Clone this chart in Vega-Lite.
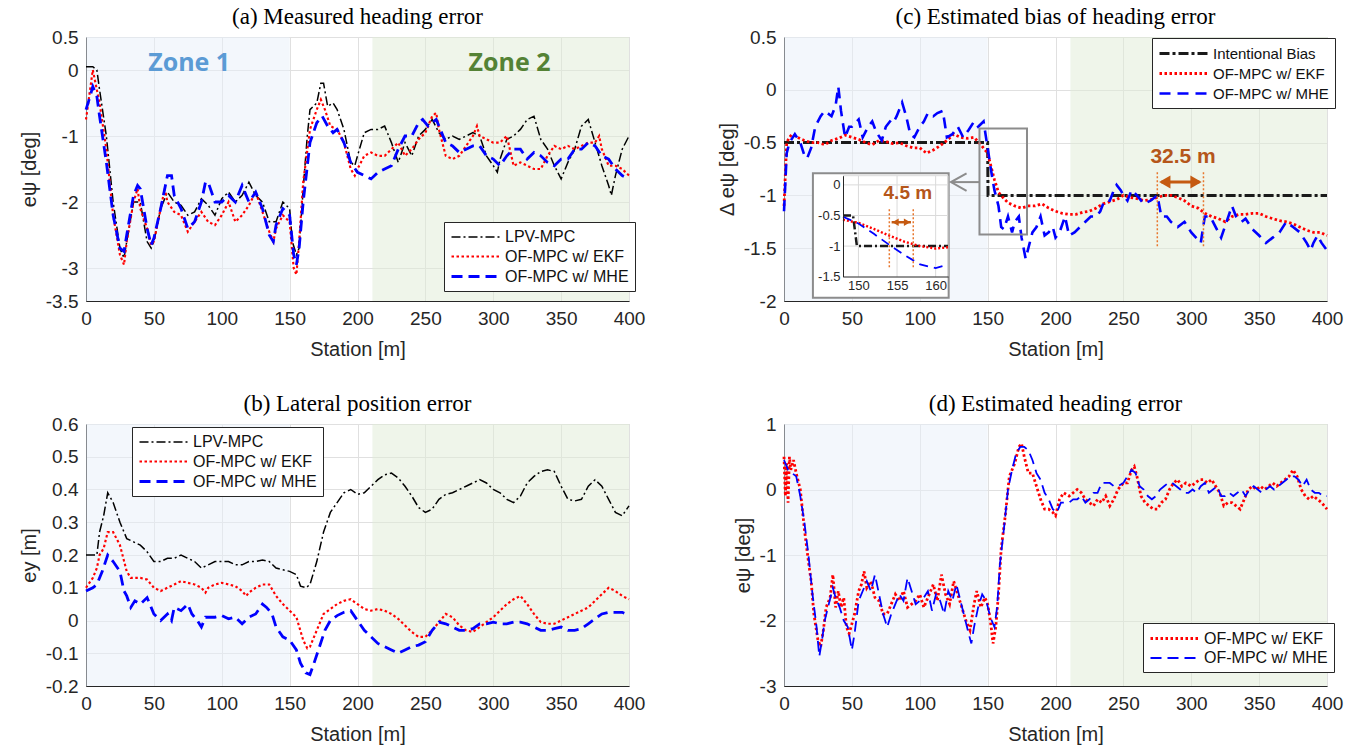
{
"$schema":"https://vega.github.io/schema/vega-lite/v6.json",
"background":"white",
"padding":{"left":18,"top":5,"right":5,"bottom":5},
"columns":2,
"bounds":"flush",
"spacing":{"row":123,"column":155},
"resolve":{"scale":{"color":"independent","strokeDash":"independent","strokeWidth":"independent","shape":"independent"},"legend":{"color":"independent","strokeDash":"independent"}},
"datasets":{
"zones":[{"z":1,"x0":0,"x1":150},{"z":2,"x0":211,"x1":400}],
"a":[
{"s":"L","x":0,"y":0.05},{"s":"L","x":5,"y":0.05},{"s":"L","x":8,"y":0.0},{"s":"L","x":10,"y":-0.3},{"s":"L","x":15,"y":-1.0},{"s":"L","x":20,"y":-2.0},{"s":"L","x":25,"y":-2.7},{"s":"L","x":28,"y":-2.85},{"s":"L","x":30,"y":-2.6},{"s":"L","x":35,"y":-2.0},{"s":"L","x":40,"y":-2.0},{"s":"L","x":45,"y":-2.6},{"s":"L","x":48,"y":-2.7},{"s":"L","x":50,"y":-2.6},{"s":"L","x":55,"y":-2.1},{"s":"L","x":60,"y":-1.85},{"s":"L","x":65,"y":-2.0},{"s":"L","x":70,"y":-2.05},{"s":"L","x":75,"y":-2.2},{"s":"L","x":80,"y":-2.15},{"s":"L","x":85,"y":-1.95},{"s":"L","x":90,"y":-2.05},{"s":"L","x":95,"y":-2.2},{"s":"L","x":100,"y":-1.95},{"s":"L","x":105,"y":-1.85},{"s":"L","x":110,"y":-2.0},{"s":"L","x":115,"y":-1.9},{"s":"L","x":120,"y":-1.7},{"s":"L","x":125,"y":-1.9},{"s":"L","x":130,"y":-2.0},{"s":"L","x":135,"y":-2.3},{"s":"L","x":140,"y":-2.3},{"s":"L","x":145,"y":-2.0},{"s":"L","x":150,"y":-2.1},{"s":"L","x":152,"y":-2.6},{"s":"L","x":155,"y":-2.8},{"s":"L","x":157,"y":-2.7},{"s":"L","x":160,"y":-1.8},{"s":"L","x":163,"y":-1.0},{"s":"L","x":165,"y":-0.6},{"s":"L","x":170,"y":-0.5},{"s":"L","x":173,"y":-0.2},{"s":"L","x":175,"y":-0.2},{"s":"L","x":178,"y":-0.55},{"s":"L","x":182,"y":-0.5},{"s":"L","x":185,"y":-0.6},{"s":"L","x":190,"y":-0.9},{"s":"L","x":195,"y":-1.4},{"s":"L","x":198,"y":-1.45},{"s":"L","x":200,"y":-1.3},{"s":"L","x":205,"y":-0.95},{"s":"L","x":210,"y":-0.9},{"s":"L","x":215,"y":-0.9},{"s":"L","x":220,"y":-0.85},{"s":"L","x":225,"y":-1.1},{"s":"L","x":230,"y":-1.4},{"s":"L","x":235,"y":-1.1},{"s":"L","x":240,"y":-1.3},{"s":"L","x":245,"y":-1.0},{"s":"L","x":250,"y":-0.9},{"s":"L","x":255,"y":-0.75},{"s":"L","x":260,"y":-0.95},{"s":"L","x":265,"y":-1.05},{"s":"L","x":270,"y":-1.0},{"s":"L","x":275,"y":-1.05},{"s":"L","x":280,"y":-1.0},{"s":"L","x":285,"y":-0.95},{"s":"L","x":290,"y":-1.0},{"s":"L","x":295,"y":-1.3},{"s":"L","x":300,"y":-1.45},{"s":"L","x":303,"y":-1.55},{"s":"L","x":305,"y":-1.35},{"s":"L","x":310,"y":-1.05},{"s":"L","x":315,"y":-1.0},{"s":"L","x":320,"y":-0.9},{"s":"L","x":325,"y":-0.75},{"s":"L","x":330,"y":-0.7},{"s":"L","x":335,"y":-1.05},{"s":"L","x":340,"y":-1.2},{"s":"L","x":345,"y":-1.45},{"s":"L","x":350,"y":-1.65},{"s":"L","x":355,"y":-1.4},{"s":"L","x":360,"y":-1.2},{"s":"L","x":365,"y":-0.85},{"s":"L","x":370,"y":-0.75},{"s":"L","x":375,"y":-1.1},{"s":"L","x":380,"y":-1.45},{"s":"L","x":385,"y":-1.75},{"s":"L","x":387,"y":-1.9},{"s":"L","x":390,"y":-1.6},{"s":"L","x":395,"y":-1.2},{"s":"L","x":400,"y":-1.0},
{"s":"E","x":0,"y":-0.75},{"s":"E","x":3,"y":-0.3},{"s":"E","x":5,"y":0.0},{"s":"E","x":7,"y":-0.2},{"s":"E","x":10,"y":-0.5},{"s":"E","x":15,"y":-1.2},{"s":"E","x":20,"y":-2.2},{"s":"E","x":25,"y":-2.8},{"s":"E","x":28,"y":-2.95},{"s":"E","x":30,"y":-2.6},{"s":"E","x":35,"y":-2.0},{"s":"E","x":38,"y":-1.8},{"s":"E","x":40,"y":-2.1},{"s":"E","x":45,"y":-2.4},{"s":"E","x":48,"y":-2.65},{"s":"E","x":50,"y":-2.6},{"s":"E","x":55,"y":-2.1},{"s":"E","x":58,"y":-1.8},{"s":"E","x":60,"y":-2.0},{"s":"E","x":65,"y":-2.15},{"s":"E","x":70,"y":-2.2},{"s":"E","x":75,"y":-2.45},{"s":"E","x":80,"y":-2.3},{"s":"E","x":85,"y":-2.15},{"s":"E","x":90,"y":-2.3},{"s":"E","x":95,"y":-2.35},{"s":"E","x":100,"y":-2.2},{"s":"E","x":105,"y":-2.0},{"s":"E","x":110,"y":-2.3},{"s":"E","x":115,"y":-2.2},{"s":"E","x":120,"y":-2.05},{"s":"E","x":125,"y":-1.85},{"s":"E","x":130,"y":-2.15},{"s":"E","x":135,"y":-2.45},{"s":"E","x":138,"y":-2.6},{"s":"E","x":140,"y":-2.4},{"s":"E","x":145,"y":-2.2},{"s":"E","x":150,"y":-2.3},{"s":"E","x":153,"y":-3.0},{"s":"E","x":155,"y":-3.1},{"s":"E","x":157,"y":-2.6},{"s":"E","x":160,"y":-1.7},{"s":"E","x":165,"y":-0.9},{"s":"E","x":170,"y":-0.6},{"s":"E","x":173,"y":-0.45},{"s":"E","x":176,"y":-0.6},{"s":"E","x":180,"y":-0.85},{"s":"E","x":185,"y":-0.9},{"s":"E","x":190,"y":-1.1},{"s":"E","x":195,"y":-1.5},{"s":"E","x":198,"y":-1.6},{"s":"E","x":200,"y":-1.5},{"s":"E","x":205,"y":-1.3},{"s":"E","x":210,"y":-1.25},{"s":"E","x":215,"y":-1.3},{"s":"E","x":220,"y":-1.3},{"s":"E","x":225,"y":-1.2},{"s":"E","x":230,"y":-1.1},{"s":"E","x":235,"y":-1.3},{"s":"E","x":240,"y":-1.2},{"s":"E","x":245,"y":-1.05},{"s":"E","x":250,"y":-0.95},{"s":"E","x":255,"y":-0.7},{"s":"E","x":258,"y":-0.65},{"s":"E","x":260,"y":-0.9},{"s":"E","x":265,"y":-1.3},{"s":"E","x":270,"y":-1.35},{"s":"E","x":275,"y":-1.3},{"s":"E","x":280,"y":-1.15},{"s":"E","x":285,"y":-1.0},{"s":"E","x":288,"y":-0.85},{"s":"E","x":290,"y":-1.0},{"s":"E","x":295,"y":-1.05},{"s":"E","x":300,"y":-1.1},{"s":"E","x":305,"y":-1.1},{"s":"E","x":310,"y":-1.0},{"s":"E","x":315,"y":-1.45},{"s":"E","x":320,"y":-1.4},{"s":"E","x":325,"y":-1.45},{"s":"E","x":330,"y":-1.5},{"s":"E","x":335,"y":-1.5},{"s":"E","x":340,"y":-1.3},{"s":"E","x":345,"y":-1.15},{"s":"E","x":350,"y":-1.2},{"s":"E","x":355,"y":-1.15},{"s":"E","x":360,"y":-1.2},{"s":"E","x":365,"y":-1.15},{"s":"E","x":370,"y":-1.1},{"s":"E","x":375,"y":-1.1},{"s":"E","x":378,"y":-1.0},{"s":"E","x":380,"y":-1.2},{"s":"E","x":385,"y":-1.45},{"s":"E","x":390,"y":-1.45},{"s":"E","x":395,"y":-1.5},{"s":"E","x":400,"y":-1.6},
{"s":"M","x":0,"y":-0.6},{"s":"M","x":3,"y":-0.4},{"s":"M","x":5,"y":-0.25},{"s":"M","x":8,"y":-0.4},{"s":"M","x":10,"y":-0.7},{"s":"M","x":15,"y":-1.4},{"s":"M","x":20,"y":-2.2},{"s":"M","x":25,"y":-2.7},{"s":"M","x":28,"y":-2.75},{"s":"M","x":30,"y":-2.5},{"s":"M","x":35,"y":-1.9},{"s":"M","x":38,"y":-1.75},{"s":"M","x":40,"y":-1.8},{"s":"M","x":45,"y":-2.4},{"s":"M","x":48,"y":-2.65},{"s":"M","x":50,"y":-2.55},{"s":"M","x":55,"y":-2.1},{"s":"M","x":60,"y":-1.6},{"s":"M","x":63,"y":-1.6},{"s":"M","x":65,"y":-1.9},{"s":"M","x":70,"y":-2.1},{"s":"M","x":75,"y":-2.4},{"s":"M","x":80,"y":-2.3},{"s":"M","x":85,"y":-2.0},{"s":"M","x":88,"y":-1.7},{"s":"M","x":90,"y":-1.7},{"s":"M","x":95,"y":-2.0},{"s":"M","x":100,"y":-2.0},{"s":"M","x":105,"y":-1.9},{"s":"M","x":110,"y":-2.0},{"s":"M","x":115,"y":-1.75},{"s":"M","x":120,"y":-2.0},{"s":"M","x":125,"y":-1.85},{"s":"M","x":130,"y":-2.1},{"s":"M","x":135,"y":-2.5},{"s":"M","x":138,"y":-2.6},{"s":"M","x":140,"y":-2.35},{"s":"M","x":145,"y":-2.1},{"s":"M","x":150,"y":-2.2},{"s":"M","x":153,"y":-2.8},{"s":"M","x":155,"y":-2.95},{"s":"M","x":157,"y":-2.7},{"s":"M","x":160,"y":-2.0},{"s":"M","x":165,"y":-1.1},{"s":"M","x":170,"y":-0.8},{"s":"M","x":174,"y":-0.7},{"s":"M","x":178,"y":-0.85},{"s":"M","x":182,"y":-0.95},{"s":"M","x":185,"y":-0.9},{"s":"M","x":190,"y":-1.1},{"s":"M","x":195,"y":-1.4},{"s":"M","x":200,"y":-1.55},{"s":"M","x":205,"y":-1.6},{"s":"M","x":210,"y":-1.65},{"s":"M","x":215,"y":-1.55},{"s":"M","x":220,"y":-1.5},{"s":"M","x":225,"y":-1.45},{"s":"M","x":230,"y":-1.2},{"s":"M","x":235,"y":-1.0},{"s":"M","x":240,"y":-1.0},{"s":"M","x":245,"y":-0.8},{"s":"M","x":248,"y":-0.75},{"s":"M","x":252,"y":-0.85},{"s":"M","x":255,"y":-0.8},{"s":"M","x":258,"y":-0.75},{"s":"M","x":260,"y":-0.85},{"s":"M","x":265,"y":-1.1},{"s":"M","x":270,"y":-1.15},{"s":"M","x":275,"y":-1.25},{"s":"M","x":280,"y":-1.2},{"s":"M","x":285,"y":-1.15},{"s":"M","x":290,"y":-1.15},{"s":"M","x":295,"y":-1.3},{"s":"M","x":300,"y":-1.35},{"s":"M","x":305,"y":-1.45},{"s":"M","x":310,"y":-1.3},{"s":"M","x":315,"y":-1.2},{"s":"M","x":320,"y":-1.2},{"s":"M","x":325,"y":-1.35},{"s":"M","x":330,"y":-1.25},{"s":"M","x":335,"y":-1.3},{"s":"M","x":340,"y":-1.4},{"s":"M","x":345,"y":-1.45},{"s":"M","x":350,"y":-1.35},{"s":"M","x":355,"y":-1.35},{"s":"M","x":360,"y":-1.2},{"s":"M","x":365,"y":-1.2},{"s":"M","x":370,"y":-1.1},{"s":"M","x":375,"y":-1.15},{"s":"M","x":380,"y":-1.3},{"s":"M","x":385,"y":-1.35},{"s":"M","x":390,"y":-1.5},{"s":"M","x":395,"y":-1.6},{"s":"M","x":400,"y":-1.65}
],
"b":[
{"s":"L","x":0,"y":0.2},{"s":"L","x":5,"y":0.2},{"s":"L","x":8,"y":0.2},{"s":"L","x":10,"y":0.27},{"s":"L","x":13,"y":0.32},{"s":"L","x":16,"y":0.39},{"s":"L","x":20,"y":0.36},{"s":"L","x":25,"y":0.3},{"s":"L","x":30,"y":0.25},{"s":"L","x":35,"y":0.24},{"s":"L","x":40,"y":0.23},{"s":"L","x":45,"y":0.21},{"s":"L","x":50,"y":0.18},{"s":"L","x":55,"y":0.18},{"s":"L","x":60,"y":0.19},{"s":"L","x":65,"y":0.19},{"s":"L","x":70,"y":0.2},{"s":"L","x":75,"y":0.19},{"s":"L","x":80,"y":0.18},{"s":"L","x":85,"y":0.16},{"s":"L","x":90,"y":0.17},{"s":"L","x":95,"y":0.18},{"s":"L","x":100,"y":0.18},{"s":"L","x":105,"y":0.18},{"s":"L","x":110,"y":0.17},{"s":"L","x":115,"y":0.17},{"s":"L","x":120,"y":0.18},{"s":"L","x":125,"y":0.18},{"s":"L","x":130,"y":0.185},{"s":"L","x":135,"y":0.18},{"s":"L","x":140,"y":0.16},{"s":"L","x":145,"y":0.155},{"s":"L","x":150,"y":0.15},{"s":"L","x":155,"y":0.14},{"s":"L","x":158,"y":0.105},{"s":"L","x":162,"y":0.1},{"s":"L","x":165,"y":0.11},{"s":"L","x":170,"y":0.18},{"s":"L","x":175,"y":0.27},{"s":"L","x":180,"y":0.33},{"s":"L","x":185,"y":0.36},{"s":"L","x":190,"y":0.39},{"s":"L","x":195,"y":0.4},{"s":"L","x":200,"y":0.385},{"s":"L","x":205,"y":0.39},{"s":"L","x":210,"y":0.41},{"s":"L","x":215,"y":0.43},{"s":"L","x":220,"y":0.445},{"s":"L","x":225,"y":0.45},{"s":"L","x":230,"y":0.435},{"s":"L","x":235,"y":0.41},{"s":"L","x":240,"y":0.38},{"s":"L","x":245,"y":0.345},{"s":"L","x":250,"y":0.33},{"s":"L","x":255,"y":0.34},{"s":"L","x":260,"y":0.37},{"s":"L","x":265,"y":0.385},{"s":"L","x":270,"y":0.39},{"s":"L","x":275,"y":0.4},{"s":"L","x":280,"y":0.41},{"s":"L","x":285,"y":0.42},{"s":"L","x":290,"y":0.43},{"s":"L","x":295,"y":0.42},{"s":"L","x":300,"y":0.4},{"s":"L","x":305,"y":0.39},{"s":"L","x":310,"y":0.37},{"s":"L","x":315,"y":0.36},{"s":"L","x":320,"y":0.38},{"s":"L","x":325,"y":0.42},{"s":"L","x":330,"y":0.44},{"s":"L","x":335,"y":0.455},{"s":"L","x":340,"y":0.46},{"s":"L","x":345,"y":0.455},{"s":"L","x":350,"y":0.41},{"s":"L","x":355,"y":0.37},{"s":"L","x":360,"y":0.365},{"s":"L","x":365,"y":0.37},{"s":"L","x":370,"y":0.41},{"s":"L","x":375,"y":0.43},{"s":"L","x":380,"y":0.41},{"s":"L","x":385,"y":0.37},{"s":"L","x":390,"y":0.33},{"s":"L","x":395,"y":0.32},{"s":"L","x":400,"y":0.35},
{"s":"E","x":0,"y":0.1},{"s":"E","x":5,"y":0.13},{"s":"E","x":8,"y":0.16},{"s":"E","x":10,"y":0.2},{"s":"E","x":13,"y":0.22},{"s":"E","x":16,"y":0.27},{"s":"E","x":20,"y":0.27},{"s":"E","x":25,"y":0.23},{"s":"E","x":30,"y":0.15},{"s":"E","x":33,"y":0.13},{"s":"E","x":40,"y":0.13},{"s":"E","x":45,"y":0.125},{"s":"E","x":50,"y":0.1},{"s":"E","x":55,"y":0.09},{"s":"E","x":60,"y":0.1},{"s":"E","x":65,"y":0.11},{"s":"E","x":70,"y":0.12},{"s":"E","x":75,"y":0.115},{"s":"E","x":80,"y":0.11},{"s":"E","x":85,"y":0.1},{"s":"E","x":88,"y":0.085},{"s":"E","x":90,"y":0.1},{"s":"E","x":95,"y":0.11},{"s":"E","x":100,"y":0.115},{"s":"E","x":105,"y":0.11},{"s":"E","x":110,"y":0.105},{"s":"E","x":115,"y":0.09},{"s":"E","x":118,"y":0.075},{"s":"E","x":120,"y":0.085},{"s":"E","x":125,"y":0.1},{"s":"E","x":130,"y":0.11},{"s":"E","x":135,"y":0.11},{"s":"E","x":140,"y":0.075},{"s":"E","x":145,"y":0.05},{"s":"E","x":150,"y":0.03},{"s":"E","x":155,"y":0.01},{"s":"E","x":160,"y":-0.06},{"s":"E","x":163,"y":-0.085},{"s":"E","x":165,"y":-0.08},{"s":"E","x":170,"y":-0.03},{"s":"E","x":175,"y":0.02},{"s":"E","x":180,"y":0.035},{"s":"E","x":185,"y":0.05},{"s":"E","x":190,"y":0.06},{"s":"E","x":195,"y":0.065},{"s":"E","x":200,"y":0.05},{"s":"E","x":205,"y":0.035},{"s":"E","x":210,"y":0.03},{"s":"E","x":215,"y":0.035},{"s":"E","x":220,"y":0.03},{"s":"E","x":225,"y":0.02},{"s":"E","x":230,"y":0.005},{"s":"E","x":235,"y":-0.015},{"s":"E","x":240,"y":-0.035},{"s":"E","x":245,"y":-0.05},{"s":"E","x":250,"y":-0.05},{"s":"E","x":255,"y":-0.03},{"s":"E","x":260,"y":-0.005},{"s":"E","x":265,"y":0.02},{"s":"E","x":270,"y":0.01},{"s":"E","x":275,"y":-0.015},{"s":"E","x":280,"y":-0.03},{"s":"E","x":285,"y":-0.035},{"s":"E","x":290,"y":-0.02},{"s":"E","x":295,"y":-0.005},{"s":"E","x":300,"y":0.01},{"s":"E","x":305,"y":0.03},{"s":"E","x":310,"y":0.05},{"s":"E","x":315,"y":0.065},{"s":"E","x":320,"y":0.075},{"s":"E","x":325,"y":0.05},{"s":"E","x":330,"y":0.02},{"s":"E","x":335,"y":-0.005},{"s":"E","x":340,"y":-0.01},{"s":"E","x":345,"y":-0.01},{"s":"E","x":350,"y":0.0},{"s":"E","x":355,"y":0.01},{"s":"E","x":360,"y":0.02},{"s":"E","x":365,"y":0.03},{"s":"E","x":370,"y":0.04},{"s":"E","x":375,"y":0.06},{"s":"E","x":380,"y":0.08},{"s":"E","x":385,"y":0.1},{"s":"E","x":390,"y":0.09},{"s":"E","x":395,"y":0.075},{"s":"E","x":400,"y":0.065},
{"s":"M","x":0,"y":0.09},{"s":"M","x":5,"y":0.1},{"s":"M","x":8,"y":0.11},{"s":"M","x":12,"y":0.15},{"s":"M","x":16,"y":0.2},{"s":"M","x":20,"y":0.18},{"s":"M","x":25,"y":0.15},{"s":"M","x":28,"y":0.09},{"s":"M","x":30,"y":0.075},{"s":"M","x":33,"y":0.04},{"s":"M","x":36,"y":0.06},{"s":"M","x":40,"y":0.05},{"s":"M","x":45,"y":0.07},{"s":"M","x":48,"y":0.04},{"s":"M","x":50,"y":0.02},{"s":"M","x":55,"y":0.0},{"s":"M","x":60,"y":0.02},{"s":"M","x":63,"y":0.0},{"s":"M","x":65,"y":0.04},{"s":"M","x":70,"y":0.03},{"s":"M","x":75,"y":0.05},{"s":"M","x":78,"y":0.02},{"s":"M","x":82,"y":0.0},{"s":"M","x":85,"y":-0.02},{"s":"M","x":88,"y":0.01},{"s":"M","x":90,"y":0.01},{"s":"M","x":95,"y":0.01},{"s":"M","x":100,"y":0.015},{"s":"M","x":105,"y":0.005},{"s":"M","x":110,"y":0.01},{"s":"M","x":115,"y":-0.01},{"s":"M","x":120,"y":0.01},{"s":"M","x":125,"y":0.02},{"s":"M","x":130,"y":0.05},{"s":"M","x":133,"y":0.04},{"s":"M","x":137,"y":0.02},{"s":"M","x":140,"y":-0.02},{"s":"M","x":145,"y":-0.05},{"s":"M","x":150,"y":-0.06},{"s":"M","x":155,"y":-0.09},{"s":"M","x":158,"y":-0.13},{"s":"M","x":162,"y":-0.16},{"s":"M","x":165,"y":-0.165},{"s":"M","x":168,"y":-0.13},{"s":"M","x":172,"y":-0.08},{"s":"M","x":176,"y":-0.03},{"s":"M","x":180,"y":0.0},{"s":"M","x":185,"y":0.015},{"s":"M","x":190,"y":0.025},{"s":"M","x":195,"y":0.03},{"s":"M","x":200,"y":0.0},{"s":"M","x":205,"y":-0.03},{"s":"M","x":210,"y":-0.05},{"s":"M","x":215,"y":-0.07},{"s":"M","x":220,"y":-0.08},{"s":"M","x":225,"y":-0.09},{"s":"M","x":230,"y":-0.1},{"s":"M","x":235,"y":-0.09},{"s":"M","x":240,"y":-0.08},{"s":"M","x":245,"y":-0.075},{"s":"M","x":250,"y":-0.065},{"s":"M","x":255,"y":-0.03},{"s":"M","x":260,"y":-0.005},{"s":"M","x":265,"y":-0.01},{"s":"M","x":270,"y":-0.02},{"s":"M","x":275,"y":-0.03},{"s":"M","x":280,"y":-0.03},{"s":"M","x":285,"y":-0.025},{"s":"M","x":290,"y":-0.01},{"s":"M","x":295,"y":-0.01},{"s":"M","x":300,"y":-0.005},{"s":"M","x":305,"y":-0.01},{"s":"M","x":310,"y":-0.01},{"s":"M","x":315,"y":-0.005},{"s":"M","x":320,"y":-0.005},{"s":"M","x":325,"y":-0.01},{"s":"M","x":330,"y":-0.02},{"s":"M","x":335,"y":-0.03},{"s":"M","x":340,"y":-0.03},{"s":"M","x":345,"y":-0.025},{"s":"M","x":350,"y":-0.02},{"s":"M","x":355,"y":-0.03},{"s":"M","x":360,"y":-0.03},{"s":"M","x":365,"y":-0.025},{"s":"M","x":370,"y":-0.01},{"s":"M","x":375,"y":0.005},{"s":"M","x":380,"y":0.02},{"s":"M","x":385,"y":0.025},{"s":"M","x":390,"y":0.025},{"s":"M","x":395,"y":0.025},{"s":"M","x":400,"y":0.015}
],
"c":[
{"s":"B","x":0,"y":-0.5},{"s":"B","x":150,"y":-0.5},{"s":"B","x":150.3,"y":-1.0},{"s":"B","x":400,"y":-1.0},
{"s":"E","x":0,"y":-1.1},{"s":"E","x":1,"y":-0.8},{"s":"E","x":2,"y":-0.5},{"s":"E","x":4,"y":-0.45},{"s":"E","x":6,"y":-0.42},{"s":"E","x":10,"y":-0.45},{"s":"E","x":15,"y":-0.48},{"s":"E","x":20,"y":-0.5},{"s":"E","x":25,"y":-0.5},{"s":"E","x":30,"y":-0.52},{"s":"E","x":35,"y":-0.48},{"s":"E","x":40,"y":-0.46},{"s":"E","x":45,"y":-0.43},{"s":"E","x":50,"y":-0.45},{"s":"E","x":55,"y":-0.47},{"s":"E","x":60,"y":-0.5},{"s":"E","x":65,"y":-0.52},{"s":"E","x":70,"y":-0.48},{"s":"E","x":75,"y":-0.49},{"s":"E","x":80,"y":-0.51},{"s":"E","x":85,"y":-0.5},{"s":"E","x":90,"y":-0.53},{"s":"E","x":95,"y":-0.55},{"s":"E","x":100,"y":-0.55},{"s":"E","x":105,"y":-0.6},{"s":"E","x":110,"y":-0.57},{"s":"E","x":115,"y":-0.53},{"s":"E","x":120,"y":-0.48},{"s":"E","x":125,"y":-0.42},{"s":"E","x":130,"y":-0.45},{"s":"E","x":135,"y":-0.46},{"s":"E","x":140,"y":-0.45},{"s":"E","x":145,"y":-0.52},{"s":"E","x":150,"y":-0.6},{"s":"E","x":153,"y":-0.75},{"s":"E","x":155,"y":-0.85},{"s":"E","x":158,"y":-0.97},{"s":"E","x":162,"y":-1.03},{"s":"E","x":165,"y":-1.07},{"s":"E","x":170,"y":-1.1},{"s":"E","x":175,"y":-1.12},{"s":"E","x":180,"y":-1.1},{"s":"E","x":185,"y":-1.1},{"s":"E","x":190,"y":-1.08},{"s":"E","x":195,"y":-1.12},{"s":"E","x":200,"y":-1.15},{"s":"E","x":205,"y":-1.17},{"s":"E","x":210,"y":-1.18},{"s":"E","x":215,"y":-1.18},{"s":"E","x":220,"y":-1.16},{"s":"E","x":225,"y":-1.15},{"s":"E","x":230,"y":-1.12},{"s":"E","x":235,"y":-1.08},{"s":"E","x":240,"y":-1.06},{"s":"E","x":245,"y":-1.04},{"s":"E","x":250,"y":-1.0},{"s":"E","x":255,"y":-1.02},{"s":"E","x":260,"y":-1.03},{"s":"E","x":265,"y":-1.05},{"s":"E","x":270,"y":-1.04},{"s":"E","x":275,"y":-1.02},{"s":"E","x":280,"y":-1.0},{"s":"E","x":285,"y":-1.0},{"s":"E","x":290,"y":-1.02},{"s":"E","x":295,"y":-1.05},{"s":"E","x":300,"y":-1.1},{"s":"E","x":305,"y":-1.12},{"s":"E","x":310,"y":-1.17},{"s":"E","x":315,"y":-1.2},{"s":"E","x":320,"y":-1.22},{"s":"E","x":325,"y":-1.25},{"s":"E","x":330,"y":-1.2},{"s":"E","x":335,"y":-1.18},{"s":"E","x":340,"y":-1.18},{"s":"E","x":345,"y":-1.17},{"s":"E","x":350,"y":-1.17},{"s":"E","x":355,"y":-1.2},{"s":"E","x":360,"y":-1.22},{"s":"E","x":365,"y":-1.24},{"s":"E","x":370,"y":-1.25},{"s":"E","x":375,"y":-1.27},{"s":"E","x":380,"y":-1.3},{"s":"E","x":385,"y":-1.33},{"s":"E","x":390,"y":-1.35},{"s":"E","x":395,"y":-1.35},{"s":"E","x":400,"y":-1.38},
{"s":"M","x":0,"y":-1.15},{"s":"M","x":2,"y":-0.6},{"s":"M","x":4,"y":-0.5},{"s":"M","x":8,"y":-0.42},{"s":"M","x":12,"y":-0.5},{"s":"M","x":15,"y":-0.62},{"s":"M","x":17,"y":-0.65},{"s":"M","x":20,"y":-0.55},{"s":"M","x":23,"y":-0.35},{"s":"M","x":27,"y":-0.25},{"s":"M","x":30,"y":-0.2},{"s":"M","x":35,"y":-0.25},{"s":"M","x":38,"y":-0.15},{"s":"M","x":40,"y":0.03},{"s":"M","x":42,"y":-0.2},{"s":"M","x":45,"y":-0.45},{"s":"M","x":48,"y":-0.35},{"s":"M","x":50,"y":-0.35},{"s":"M","x":55,"y":-0.28},{"s":"M","x":58,"y":-0.45},{"s":"M","x":62,"y":-0.35},{"s":"M","x":65,"y":-0.3},{"s":"M","x":68,"y":-0.4},{"s":"M","x":72,"y":-0.48},{"s":"M","x":75,"y":-0.35},{"s":"M","x":78,"y":-0.3},{"s":"M","x":80,"y":-0.32},{"s":"M","x":83,"y":-0.25},{"s":"M","x":87,"y":-0.12},{"s":"M","x":90,"y":-0.25},{"s":"M","x":93,"y":-0.42},{"s":"M","x":96,"y":-0.45},{"s":"M","x":100,"y":-0.35},{"s":"M","x":103,"y":-0.3},{"s":"M","x":106,"y":-0.22},{"s":"M","x":110,"y":-0.25},{"s":"M","x":113,"y":-0.22},{"s":"M","x":117,"y":-0.2},{"s":"M","x":120,"y":-0.45},{"s":"M","x":124,"y":-0.42},{"s":"M","x":128,"y":-0.35},{"s":"M","x":132,"y":-0.45},{"s":"M","x":136,"y":-0.38},{"s":"M","x":140,"y":-0.3},{"s":"M","x":143,"y":-0.35},{"s":"M","x":147,"y":-0.3},{"s":"M","x":150,"y":-0.55},{"s":"M","x":153,"y":-0.8},{"s":"M","x":155,"y":-0.95},{"s":"M","x":158,"y":-1.1},{"s":"M","x":160,"y":-1.3},{"s":"M","x":162,"y":-1.32},{"s":"M","x":165,"y":-1.2},{"s":"M","x":168,"y":-1.35},{"s":"M","x":170,"y":-1.25},{"s":"M","x":173,"y":-1.2},{"s":"M","x":175,"y":-1.4},{"s":"M","x":178,"y":-1.6},{"s":"M","x":180,"y":-1.5},{"s":"M","x":183,"y":-1.35},{"s":"M","x":186,"y":-1.3},{"s":"M","x":189,"y":-1.2},{"s":"M","x":192,"y":-1.38},{"s":"M","x":195,"y":-1.35},{"s":"M","x":198,"y":-1.3},{"s":"M","x":200,"y":-1.4},{"s":"M","x":203,"y":-1.35},{"s":"M","x":207,"y":-1.2},{"s":"M","x":210,"y":-1.38},{"s":"M","x":214,"y":-1.35},{"s":"M","x":218,"y":-1.3},{"s":"M","x":222,"y":-1.25},{"s":"M","x":226,"y":-1.2},{"s":"M","x":230,"y":-1.2},{"s":"M","x":233,"y":-1.15},{"s":"M","x":236,"y":-1.05},{"s":"M","x":240,"y":-1.05},{"s":"M","x":243,"y":-0.95},{"s":"M","x":245,"y":-0.9},{"s":"M","x":248,"y":-0.95},{"s":"M","x":250,"y":-1.0},{"s":"M","x":253,"y":-1.05},{"s":"M","x":256,"y":-0.95},{"s":"M","x":260,"y":-1.0},{"s":"M","x":265,"y":-1.08},{"s":"M","x":270,"y":-1.05},{"s":"M","x":275,"y":-1.0},{"s":"M","x":278,"y":-1.2},{"s":"M","x":282,"y":-1.2},{"s":"M","x":285,"y":-1.25},{"s":"M","x":290,"y":-1.3},{"s":"M","x":295,"y":-1.25},{"s":"M","x":300,"y":-1.35},{"s":"M","x":305,"y":-1.42},{"s":"M","x":307,"y":-1.45},{"s":"M","x":310,"y":-1.2},{"s":"M","x":314,"y":-1.2},{"s":"M","x":318,"y":-1.3},{"s":"M","x":322,"y":-1.4},{"s":"M","x":326,"y":-1.25},{"s":"M","x":330,"y":-1.1},{"s":"M","x":333,"y":-1.2},{"s":"M","x":337,"y":-1.25},{"s":"M","x":340,"y":-1.22},{"s":"M","x":345,"y":-1.32},{"s":"M","x":350,"y":-1.38},{"s":"M","x":355,"y":-1.45},{"s":"M","x":360,"y":-1.4},{"s":"M","x":365,"y":-1.35},{"s":"M","x":370,"y":-1.25},{"s":"M","x":375,"y":-1.3},{"s":"M","x":380,"y":-1.35},{"s":"M","x":385,"y":-1.45},{"s":"M","x":388,"y":-1.52},{"s":"M","x":390,"y":-1.45},{"s":"M","x":393,"y":-1.38},{"s":"M","x":396,"y":-1.45},{"s":"M","x":400,"y":-1.52}
],
"ci":[
{"s":"B","x":148,"y":-0.5},{"s":"B","x":149.3,"y":-0.5},{"s":"B","x":149.8,"y":-1.0},{"s":"B","x":161.6,"y":-1.0},
{"s":"E","x":148,"y":-0.57},{"s":"E","x":150,"y":-0.62},{"s":"E","x":152,"y":-0.72},{"s":"E","x":154,"y":-0.83},{"s":"E","x":156,"y":-0.93},{"s":"E","x":158,"y":-1.0},{"s":"E","x":160,"y":-1.04},{"s":"E","x":161.6,"y":-1.02},
{"s":"M","x":148,"y":-0.52},{"s":"M","x":150,"y":-0.63},{"s":"M","x":152,"y":-0.8},{"s":"M","x":154,"y":-0.98},{"s":"M","x":156,"y":-1.15},{"s":"M","x":158,"y":-1.3},{"s":"M","x":160,"y":-1.36},{"s":"M","x":161.6,"y":-1.3}
],
"d":[
{"s":"E","x":0,"y":0.5},{"s":"E","x":1,"y":-0.1},{"s":"E","x":2,"y":0.4},{"s":"E","x":3,"y":-0.2},{"s":"E","x":4,"y":0.5},{"s":"E","x":5,"y":0.3},{"s":"E","x":7,"y":0.45},{"s":"E","x":9,"y":0.25},{"s":"E","x":12,"y":0.0},{"s":"E","x":15,"y":-0.6},{"s":"E","x":18,"y":-1.1},{"s":"E","x":20,"y":-1.4},{"s":"E","x":22,"y":-1.9},{"s":"E","x":25,"y":-2.3},{"s":"E","x":27,"y":-2.4},{"s":"E","x":29,"y":-2.15},{"s":"E","x":31,"y":-1.8},{"s":"E","x":34,"y":-1.65},{"s":"E","x":36,"y":-1.3},{"s":"E","x":38,"y":-1.8},{"s":"E","x":40,"y":-1.55},{"s":"E","x":42,"y":-1.8},{"s":"E","x":44,"y":-1.65},{"s":"E","x":46,"y":-2.1},{"s":"E","x":48,"y":-2.2},{"s":"E","x":50,"y":-2.05},{"s":"E","x":52,"y":-1.9},{"s":"E","x":55,"y":-1.55},{"s":"E","x":57,"y":-1.45},{"s":"E","x":59,"y":-1.25},{"s":"E","x":61,"y":-1.5},{"s":"E","x":64,"y":-1.4},{"s":"E","x":67,"y":-1.65},{"s":"E","x":70,"y":-1.7},{"s":"E","x":73,"y":-1.9},{"s":"E","x":76,"y":-1.9},{"s":"E","x":79,"y":-1.75},{"s":"E","x":82,"y":-1.6},{"s":"E","x":85,"y":-1.7},{"s":"E","x":88,"y":-1.55},{"s":"E","x":91,"y":-1.8},{"s":"E","x":94,"y":-1.75},{"s":"E","x":97,"y":-1.7},{"s":"E","x":100,"y":-1.6},{"s":"E","x":103,"y":-1.8},{"s":"E","x":106,"y":-1.65},{"s":"E","x":110,"y":-1.45},{"s":"E","x":113,"y":-1.7},{"s":"E","x":116,"y":-1.3},{"s":"E","x":119,"y":-1.6},{"s":"E","x":122,"y":-1.75},{"s":"E","x":125,"y":-1.4},{"s":"E","x":128,"y":-1.6},{"s":"E","x":131,"y":-1.8},{"s":"E","x":134,"y":-2.0},{"s":"E","x":137,"y":-2.15},{"s":"E","x":140,"y":-1.75},{"s":"E","x":142,"y":-1.55},{"s":"E","x":145,"y":-1.8},{"s":"E","x":148,"y":-1.65},{"s":"E","x":150,"y":-1.75},{"s":"E","x":152,"y":-2.0},{"s":"E","x":154,"y":-2.35},{"s":"E","x":156,"y":-2.1},{"s":"E","x":158,"y":-1.6},{"s":"E","x":160,"y":-0.9},{"s":"E","x":163,"y":-0.4},{"s":"E","x":166,"y":0.2},{"s":"E","x":170,"y":0.4},{"s":"E","x":173,"y":0.65},{"s":"E","x":175,"y":0.7},{"s":"E","x":177,"y":0.5},{"s":"E","x":180,"y":0.25},{"s":"E","x":183,"y":0.25},{"s":"E","x":186,"y":0.05},{"s":"E","x":189,"y":-0.15},{"s":"E","x":192,"y":-0.3},{"s":"E","x":195,"y":-0.3},{"s":"E","x":198,"y":-0.35},{"s":"E","x":200,"y":-0.4},{"s":"E","x":203,"y":-0.15},{"s":"E","x":206,"y":-0.05},{"s":"E","x":210,"y":-0.1},{"s":"E","x":213,"y":-0.05},{"s":"E","x":216,"y":0.0},{"s":"E","x":219,"y":-0.05},{"s":"E","x":222,"y":-0.15},{"s":"E","x":225,"y":-0.2},{"s":"E","x":228,"y":-0.25},{"s":"E","x":231,"y":-0.15},{"s":"E","x":234,"y":-0.2},{"s":"E","x":237,"y":-0.1},{"s":"E","x":240,"y":-0.25},{"s":"E","x":243,"y":-0.15},{"s":"E","x":246,"y":0.0},{"s":"E","x":250,"y":0.1},{"s":"E","x":253,"y":0.1},{"s":"E","x":256,"y":0.3},{"s":"E","x":258,"y":0.35},{"s":"E","x":260,"y":0.2},{"s":"E","x":263,"y":-0.1},{"s":"E","x":266,"y":-0.2},{"s":"E","x":269,"y":-0.25},{"s":"E","x":272,"y":-0.3},{"s":"E","x":275,"y":-0.3},{"s":"E","x":278,"y":-0.2},{"s":"E","x":281,"y":-0.15},{"s":"E","x":284,"y":0.0},{"s":"E","x":287,"y":0.1},{"s":"E","x":290,"y":0.15},{"s":"E","x":293,"y":0.05},{"s":"E","x":296,"y":0.1},{"s":"E","x":300,"y":0.05},{"s":"E","x":303,"y":0.1},{"s":"E","x":306,"y":0.15},{"s":"E","x":309,"y":0.15},{"s":"E","x":312,"y":0.1},{"s":"E","x":315,"y":0.15},{"s":"E","x":318,"y":0.05},{"s":"E","x":321,"y":-0.05},{"s":"E","x":324,"y":-0.25},{"s":"E","x":327,"y":-0.2},{"s":"E","x":330,"y":-0.2},{"s":"E","x":333,"y":-0.25},{"s":"E","x":336,"y":-0.3},{"s":"E","x":339,"y":-0.15},{"s":"E","x":342,"y":0.0},{"s":"E","x":345,"y":0.05},{"s":"E","x":348,"y":0.0},{"s":"E","x":351,"y":0.05},{"s":"E","x":354,"y":0.0},{"s":"E","x":357,"y":0.05},{"s":"E","x":360,"y":0.1},{"s":"E","x":363,"y":0.05},{"s":"E","x":366,"y":0.1},{"s":"E","x":369,"y":0.15},{"s":"E","x":372,"y":0.2},{"s":"E","x":375,"y":0.3},{"s":"E","x":378,"y":0.2},{"s":"E","x":381,"y":0.0},{"s":"E","x":384,"y":-0.1},{"s":"E","x":387,"y":-0.15},{"s":"E","x":390,"y":-0.1},{"s":"E","x":393,"y":-0.15},{"s":"E","x":396,"y":-0.2},{"s":"E","x":400,"y":-0.3},
{"s":"M","x":0,"y":0.45},{"s":"M","x":3,"y":0.3},{"s":"M","x":6,"y":0.25},{"s":"M","x":9,"y":0.2},{"s":"M","x":12,"y":-0.1},{"s":"M","x":15,"y":-0.5},{"s":"M","x":18,"y":-1.0},{"s":"M","x":21,"y":-1.6},{"s":"M","x":24,"y":-2.1},{"s":"M","x":26,"y":-2.55},{"s":"M","x":28,"y":-2.3},{"s":"M","x":30,"y":-2.0},{"s":"M","x":33,"y":-1.75},{"s":"M","x":36,"y":-1.5},{"s":"M","x":38,"y":-1.65},{"s":"M","x":41,"y":-1.8},{"s":"M","x":44,"y":-2.0},{"s":"M","x":47,"y":-2.1},{"s":"M","x":50,"y":-2.45},{"s":"M","x":52,"y":-2.2},{"s":"M","x":55,"y":-1.7},{"s":"M","x":58,"y":-1.55},{"s":"M","x":61,"y":-1.4},{"s":"M","x":64,"y":-1.55},{"s":"M","x":67,"y":-1.3},{"s":"M","x":70,"y":-1.6},{"s":"M","x":73,"y":-1.9},{"s":"M","x":76,"y":-2.1},{"s":"M","x":79,"y":-1.9},{"s":"M","x":82,"y":-1.75},{"s":"M","x":85,"y":-1.6},{"s":"M","x":88,"y":-1.7},{"s":"M","x":91,"y":-1.35},{"s":"M","x":94,"y":-1.55},{"s":"M","x":97,"y":-1.75},{"s":"M","x":100,"y":-1.7},{"s":"M","x":103,"y":-1.65},{"s":"M","x":106,"y":-1.55},{"s":"M","x":109,"y":-1.85},{"s":"M","x":112,"y":-1.6},{"s":"M","x":115,"y":-1.7},{"s":"M","x":118,"y":-1.9},{"s":"M","x":121,"y":-1.55},{"s":"M","x":124,"y":-1.7},{"s":"M","x":127,"y":-1.45},{"s":"M","x":130,"y":-1.7},{"s":"M","x":133,"y":-1.95},{"s":"M","x":136,"y":-2.2},{"s":"M","x":138,"y":-2.35},{"s":"M","x":140,"y":-2.1},{"s":"M","x":143,"y":-1.8},{"s":"M","x":146,"y":-1.6},{"s":"M","x":149,"y":-1.7},{"s":"M","x":152,"y":-1.95},{"s":"M","x":155,"y":-2.1},{"s":"M","x":157,"y":-1.8},{"s":"M","x":159,"y":-1.15},{"s":"M","x":162,"y":-0.6},{"s":"M","x":165,"y":0.0},{"s":"M","x":168,"y":0.3},{"s":"M","x":171,"y":0.55},{"s":"M","x":174,"y":0.65},{"s":"M","x":177,"y":0.65},{"s":"M","x":180,"y":0.6},{"s":"M","x":183,"y":0.45},{"s":"M","x":186,"y":0.25},{"s":"M","x":189,"y":0.15},{"s":"M","x":192,"y":-0.05},{"s":"M","x":195,"y":-0.15},{"s":"M","x":198,"y":-0.3},{"s":"M","x":201,"y":-0.35},{"s":"M","x":204,"y":-0.2},{"s":"M","x":207,"y":-0.2},{"s":"M","x":210,"y":-0.2},{"s":"M","x":213,"y":-0.15},{"s":"M","x":216,"y":-0.15},{"s":"M","x":219,"y":-0.1},{"s":"M","x":222,"y":-0.2},{"s":"M","x":225,"y":-0.15},{"s":"M","x":228,"y":-0.05},{"s":"M","x":231,"y":-0.05},{"s":"M","x":234,"y":0.1},{"s":"M","x":237,"y":0.1},{"s":"M","x":240,"y":0.1},{"s":"M","x":243,"y":0.05},{"s":"M","x":246,"y":0.05},{"s":"M","x":250,"y":0.1},{"s":"M","x":253,"y":0.2},{"s":"M","x":256,"y":0.3},{"s":"M","x":259,"y":0.25},{"s":"M","x":262,"y":0.05},{"s":"M","x":265,"y":0.0},{"s":"M","x":268,"y":-0.1},{"s":"M","x":271,"y":-0.15},{"s":"M","x":274,"y":-0.1},{"s":"M","x":277,"y":0.0},{"s":"M","x":280,"y":0.05},{"s":"M","x":283,"y":0.1},{"s":"M","x":286,"y":0.1},{"s":"M","x":289,"y":0.05},{"s":"M","x":292,"y":0.0},{"s":"M","x":295,"y":-0.05},{"s":"M","x":298,"y":-0.05},{"s":"M","x":301,"y":0.0},{"s":"M","x":304,"y":-0.05},{"s":"M","x":307,"y":0.05},{"s":"M","x":310,"y":0.1},{"s":"M","x":313,"y":-0.05},{"s":"M","x":316,"y":0.0},{"s":"M","x":319,"y":0.05},{"s":"M","x":322,"y":-0.1},{"s":"M","x":325,"y":-0.1},{"s":"M","x":328,"y":-0.05},{"s":"M","x":331,"y":-0.1},{"s":"M","x":334,"y":-0.05},{"s":"M","x":337,"y":0.0},{"s":"M","x":340,"y":-0.1},{"s":"M","x":343,"y":0.0},{"s":"M","x":346,"y":0.05},{"s":"M","x":349,"y":0.0},{"s":"M","x":352,"y":-0.05},{"s":"M","x":355,"y":0.0},{"s":"M","x":358,"y":0.05},{"s":"M","x":361,"y":0.0},{"s":"M","x":364,"y":0.05},{"s":"M","x":367,"y":0.1},{"s":"M","x":370,"y":0.15},{"s":"M","x":373,"y":0.2},{"s":"M","x":376,"y":0.2},{"s":"M","x":379,"y":0.15},{"s":"M","x":382,"y":0.05},{"s":"M","x":385,"y":0.15},{"s":"M","x":388,"y":0.0},{"s":"M","x":391,"y":-0.05},{"s":"M","x":394,"y":-0.05},{"s":"M","x":397,"y":-0.1},{"s":"M","x":400,"y":-0.1}
]
},
"concat":[
{
"title":"(a) Measured heading error",
"width":543,"height":264,
"layer":[
{"data":{"name":"zones"},"mark":{"type":"rect","opacity":0.5},
"encoding":{"x":{"field":"x0","type":"quantitative","scale":{"domain":[0,400],"nice":false,"zero":false},"axis":{"values":[0,50,100,150,200,250,300,350,400],"title":"Station [m]","labelExpr":"datum.value+''"}},"x2":{"field":"x1"},"fill":{"condition":{"test":"datum.z==1","value":"#e7eff9"},"value":"#dfebd5"}}},
{"data":{"name":"a"},"mark":{"type":"line","strokeCap":"butt"},
"encoding":{"x":{"field":"x","type":"quantitative"},
"y":{"field":"y","type":"quantitative","scale":{"domain":[-3.5,0.5],"nice":false,"zero":false},"axis":{"values":[-3.5,-3,-2,-1,0,0.5],"title":"eψ [deg]","labelExpr":"datum.value+''"}},
"color":{"field":"s","type":"nominal","scale":{"domain":["L","E","M"],"range":["#000000","#ff0000","#0000ff"]},"legend":{"title":null,"legendX":358,"legendY":185,"labelExpr":"datum.label=='L'?'LPV-MPC':datum.label=='E'?'OF-MPC w/ EKF':'OF-MPC w/ MHE'"}},
"strokeDash":{"field":"s","type":"nominal","scale":{"domain":["L","E","M"],"range":[[9,3,2,3],[2.5,2.5],[11,6]]},"legend":{"title":null,"legendX":358,"legendY":185,"labelExpr":"datum.label=='L'?'LPV-MPC':datum.label=='E'?'OF-MPC w/ EKF':'OF-MPC w/ MHE'"}},
"strokeWidth":{"field":"s","type":"nominal","scale":{"domain":["L","E","M"],"range":[1.5,2.8,1.8]},"legend":null}}},
{"data":{"values":[{"x":76,"y":0.11,"t":"Zone 1"},{"x":312,"y":0.11,"t":"Zone 2"}]},"mark":{"type":"text","font":"Open Sans","fontWeight":"bold","fontSize":25,"baseline":"middle"},
"encoding":{"x":{"field":"x","type":"quantitative"},"y":{"field":"y","type":"quantitative"},"text":{"field":"t"},"color":{"condition":{"test":"datum.t=='Zone 1'","value":"#5b9bd5"},"value":"#548235"}}}
]
},
{
"title":"(c) Estimated bias of heading error",
"width":543,"height":264,
"layer":[
{"layer":[
{"data":{"name":"zones"},"mark":{"type":"rect","opacity":0.5},
"encoding":{"x":{"field":"x0","type":"quantitative","scale":{"domain":[0,400],"nice":false,"zero":false},"axis":{"orient":"bottom","values":[0,50,100,150,200,250,300,350,400],"title":"Station [m]","labelExpr":"datum.value+''"}},"x2":{"field":"x1"},"fill":{"condition":{"test":"datum.z==1","value":"#e7eff9"},"value":"#dfebd5"}}},
{"data":{"name":"c"},"mark":{"type":"line","strokeCap":"butt"},
"encoding":{"x":{"field":"x","type":"quantitative"},
"y":{"field":"y","type":"quantitative","scale":{"domain":[-2,0.5],"nice":false,"zero":false},"axis":{"orient":"left","values":[-2,-1.5,-1,-0.5,0,0.5],"title":"Δ eψ [deg]","labelExpr":"datum.value+''"}},
"color":{"field":"s","type":"nominal","scale":{"domain":["B","E","M"],"range":["#1a1a1a","#ff0000","#0000ff"]},"legend":{"title":null,"legendX":368,"legendY":1,"labelFontSize":15,"labelExpr":"datum.label=='B'?'Intentional Bias':datum.label=='E'?'OF-MPC w/ EKF':'OF-MPC w/ MHE'"}},
"strokeDash":{"field":"s","type":"nominal","scale":{"domain":["B","E","M"],"range":[[10,3,3,3],[2.5,2.5],[11,7]]},"legend":{"title":null,"legendX":368,"legendY":1,"labelFontSize":15,"labelExpr":"datum.label=='B'?'Intentional Bias':datum.label=='E'?'OF-MPC w/ EKF':'OF-MPC w/ MHE'"}},
"strokeWidth":{"field":"s","type":"nominal","scale":{"domain":["B","E","M"],"range":[3,2.6,1.8]},"legend":null}}},
{"data":{"values":[{"x":144,"x2":179,"y":-0.367,"y2":-1.37}]},"mark":{"type":"rect","fill":"white","fillOpacity":0,"stroke":"#8c8c8c","strokeWidth":2},
"encoding":{"x":{"field":"x","type":"quantitative"},"x2":{"field":"x2"},"y":{"field":"y","type":"quantitative"},"y2":{"field":"y2"}}},
{"data":{"values":[{"x":21.3,"x2":121.3,"y":-0.79,"y2":-1.97}]},"mark":{"type":"rect","fill":"white","stroke":"#8c8c8c","strokeWidth":2},
"encoding":{"x":{"field":"x","type":"quantitative"},"x2":{"field":"x2"},"y":{"field":"y","type":"quantitative"},"y2":{"field":"y2"}}},
{"data":{"values":[{"x":123,"x2":144,"y":-0.874}]},"mark":{"type":"rule","color":"#8c8c8c","strokeWidth":2},
"encoding":{"x":{"field":"x","type":"quantitative"},"x2":{"field":"x2"},"y":{"field":"y","type":"quantitative"}}},
{"data":{"values":[{"x":123,"y":-0.874}]},"mark":{"type":"point","shape":"M1.8,-1L0,0L1.8,1","size":300,"filled":false,"color":"#8c8c8c","strokeWidth":2,"opacity":1},
"encoding":{"x":{"field":"x","type":"quantitative"},"y":{"field":"y","type":"quantitative"}}},
{"data":{"values":[{"x":275},{"x":309}]},"mark":{"type":"rule","color":"#e8772e","strokeDash":[2,2],"strokeWidth":1.5},
"encoding":{"x":{"field":"x","type":"quantitative"},"y":{"datum":-0.78},"y2":{"datum":-1.5}}},
{"data":{"values":[{"x":278,"x2":306,"y":-0.874}]},"mark":{"type":"rule","color":"#c55a11","strokeWidth":3},
"encoding":{"x":{"field":"x","type":"quantitative"},"x2":{"field":"x2"},"y":{"field":"y","type":"quantitative"}}},
{"data":{"values":[{"x":280.5,"y":-0.874,"sh":"triangle-left"},{"x":303.5,"y":-0.874,"sh":"triangle-right"}]},"mark":{"type":"point","filled":true,"size":170,"color":"#c55a11","opacity":1},
"encoding":{"x":{"field":"x","type":"quantitative"},"y":{"field":"y","type":"quantitative"},"shape":{"field":"sh","type":"nominal","scale":null,"legend":null}}},
{"data":{"values":[{"x":294,"y":-0.64,"t":"32.5 m"}]},"mark":{"type":"text","font":"Liberation Sans","fontWeight":"bold","fontSize":21,"color":"#b5561a","baseline":"middle"},
"encoding":{"x":{"field":"x","type":"quantitative"},"y":{"field":"y","type":"quantitative"},"text":{"field":"t"}}}
]},
{"layer":[
{"data":{"values":[{"g":150},{"g":155},{"g":160},{"g":161.6}]},"mark":{"type":"rule","color":"#dadada","strokeWidth":1},
"encoding":{"x":{"field":"g","type":"quantitative","scale":{"domain":[148,161.6],"range":[59,164],"nice":false,"zero":false},"axis":{"orient":"bottom","offset":-24.5,"zindex":1,"values":[150,155,160],"labelFontSize":13,"labelPadding":3,"title":null,"grid":false,"labelExpr":"datum.value+''"}},
"y":{"datum":-1.5,"type":"quantitative","scale":{"domain":[-1.5,0.15],"range":[239.7,138.7],"nice":false,"zero":false},"axis":{"orient":"left","offset":-59,"zindex":1,"values":[-1.5,-1,-0.5,0],"labelFontSize":13,"labelPadding":3,"title":null,"grid":false,"labelExpr":"datum.value+''"}},
"y2":{"datum":0.15}}},
{"data":{"values":[{"g":-1},{"g":-0.5},{"g":0},{"g":0.15}]},"mark":{"type":"rule","color":"#dadada","strokeWidth":1},
"encoding":{"y":{"field":"g","type":"quantitative"},"x":{"datum":148,"type":"quantitative"},"x2":{"datum":161.6}}},
{"data":{"name":"ci"},"transform":[{"filter":"datum.s=='B'"}],"mark":{"type":"line","color":"#1a1a1a","strokeDash":[8,3,2,3],"strokeWidth":2.5},
"encoding":{"x":{"field":"x","type":"quantitative"},"y":{"field":"y","type":"quantitative"}}},
{"data":{"name":"ci"},"transform":[{"filter":"datum.s=='E'"}],"mark":{"type":"line","color":"#ff0000","strokeDash":[2,2],"strokeWidth":2.4},
"encoding":{"x":{"field":"x","type":"quantitative"},"y":{"field":"y","type":"quantitative"}}},
{"data":{"name":"ci"},"transform":[{"filter":"datum.s=='M'"}],"mark":{"type":"line","color":"#0000ff","strokeDash":[9,6],"strokeWidth":1.8},
"encoding":{"x":{"field":"x","type":"quantitative"},"y":{"field":"y","type":"quantitative"}}},
{"data":{"values":[{"x":154},{"x":157.1}]},"mark":{"type":"rule","color":"#e8772e","strokeDash":[2,2],"strokeWidth":1.5},
"encoding":{"x":{"field":"x","type":"quantitative"},"y":{"datum":-0.4},"y2":{"datum":-1.35}}},
{"data":{"values":[{"x":154.3,"x2":156.8,"y":-0.61}]},"mark":{"type":"rule","color":"#c55a11","strokeWidth":2.5},
"encoding":{"x":{"field":"x","type":"quantitative"},"x2":{"field":"x2"},"y":{"field":"y","type":"quantitative"}}},
{"data":{"values":[{"x":154.8,"y":-0.61,"sh":"triangle-left"},{"x":156.3,"y":-0.61,"sh":"triangle-right"}]},"mark":{"type":"point","filled":true,"size":55,"color":"#c55a11","opacity":1},
"encoding":{"x":{"field":"x","type":"quantitative"},"y":{"field":"y","type":"quantitative"},"shape":{"field":"sh","type":"nominal","scale":null,"legend":null}}},
{"data":{"values":[{"x":156.4,"y":-0.13,"t":"4.5 m"}]},"mark":{"type":"text","font":"Liberation Sans","fontWeight":"bold","fontSize":19,"color":"#b5561a","baseline":"middle"},
"encoding":{"x":{"field":"x","type":"quantitative"},"y":{"field":"y","type":"quantitative"},"text":{"field":"t"}}}
]}
],
"resolve":{"scale":{"x":"independent","y":"independent"}}
},
{
"title":"(b) Lateral position error",
"width":543,"height":262,
"layer":[
{"data":{"name":"zones"},"mark":{"type":"rect","opacity":0.5},
"encoding":{"x":{"field":"x0","type":"quantitative","scale":{"domain":[0,400],"nice":false,"zero":false},"axis":{"values":[0,50,100,150,200,250,300,350,400],"title":"Station [m]","labelExpr":"datum.value+''"}},"x2":{"field":"x1"},"fill":{"condition":{"test":"datum.z==1","value":"#e7eff9"},"value":"#dfebd5"}}},
{"data":{"name":"b"},"mark":{"type":"line","strokeCap":"butt"},
"encoding":{"x":{"field":"x","type":"quantitative"},
"y":{"field":"y","type":"quantitative","scale":{"domain":[-0.2,0.6],"nice":false,"zero":false},"axis":{"values":[-0.2,-0.1,0,0.1,0.2,0.3,0.4,0.5,0.6],"title":"ey [m]","labelExpr":"datum.value+''"}},
"color":{"field":"s","type":"nominal","scale":{"domain":["L","E","M"],"range":["#000000","#ff0000","#0000ff"]},"legend":{"title":null,"legendX":46,"legendY":3,"labelExpr":"datum.label=='L'?'LPV-MPC':datum.label=='E'?'OF-MPC w/ EKF':'OF-MPC w/ MHE'"}},
"strokeDash":{"field":"s","type":"nominal","scale":{"domain":["L","E","M"],"range":[[9,3,2,3],[2.5,2.5],[11,6]]},"legend":{"title":null,"legendX":46,"legendY":3,"labelExpr":"datum.label=='L'?'LPV-MPC':datum.label=='E'?'OF-MPC w/ EKF':'OF-MPC w/ MHE'"}},
"strokeWidth":{"field":"s","type":"nominal","scale":{"domain":["L","E","M"],"range":[1.5,2.8,1.8]},"legend":null}}}
]
},
{
"title":"(d) Estimated heading error",
"width":543,"height":262,
"layer":[
{"data":{"name":"zones"},"mark":{"type":"rect","opacity":0.5},
"encoding":{"x":{"field":"x0","type":"quantitative","scale":{"domain":[0,400],"nice":false,"zero":false},"axis":{"values":[0,50,100,150,200,250,300,350,400],"title":"Station [m]","labelExpr":"datum.value+''"}},"x2":{"field":"x1"},"fill":{"condition":{"test":"datum.z==1","value":"#e7eff9"},"value":"#dfebd5"}}},
{"data":{"name":"d"},"mark":{"type":"line","strokeCap":"butt"},
"encoding":{"x":{"field":"x","type":"quantitative"},
"y":{"field":"y","type":"quantitative","scale":{"domain":[-3,1],"nice":false,"zero":false},"axis":{"values":[-3,-2,-1,0,1],"title":"eψ [deg]","labelExpr":"datum.value+''"}},
"color":{"field":"s","type":"nominal","scale":{"domain":["E","M"],"range":["#ff0000","#0000ff"]},"legend":{"title":null,"legendX":359,"legendY":199,"labelExpr":"datum.label=='E'?'OF-MPC w/ EKF':'OF-MPC w/ MHE'"}},
"strokeDash":{"field":"s","type":"nominal","scale":{"domain":["E","M"],"range":[[2.5,2.5],[11,6]]},"legend":{"title":null,"legendX":359,"legendY":199,"labelExpr":"datum.label=='E'?'OF-MPC w/ EKF':'OF-MPC w/ MHE'"}},
"strokeWidth":{"field":"s","type":"nominal","scale":{"domain":["E","M"],"range":[2.8,1.8]},"legend":null}}}
]
}
],
"config":{
"view":{"stroke":"#cfcfcf","strokeWidth":1},
"axis":{"domainColor":"#262626","domainWidth":1,"gridColor":"#e0e0e0","gridWidth":1,"ticks":false,"labelFont":"Liberation Sans","labelFontSize":19,"labelColor":"#262626","labelPadding":8,"titleFont":"Liberation Sans","titleFontSize":20,"titleFontWeight":"normal","titleColor":"#262626","labelFlush":false,"labelOverlap":false},
"axisX":{"titlePadding":11},
"axisY":{"titlePadding":6},
"title":{"font":"Liberation Serif","fontSize":23,"fontWeight":"normal","color":"#000000","offset":-1},
"legend":{"orient":"none","strokeColor":"#262626","fillColor":"white","padding":6,"labelFont":"Liberation Sans","labelFontSize":16,"labelColor":"#111111","symbolType":"M-3,0L3,0","symbolSize":256,"symbolStrokeWidth":2.2,"rowPadding":2,"symbolOffset":16,"labelOffset":20}
}
}
